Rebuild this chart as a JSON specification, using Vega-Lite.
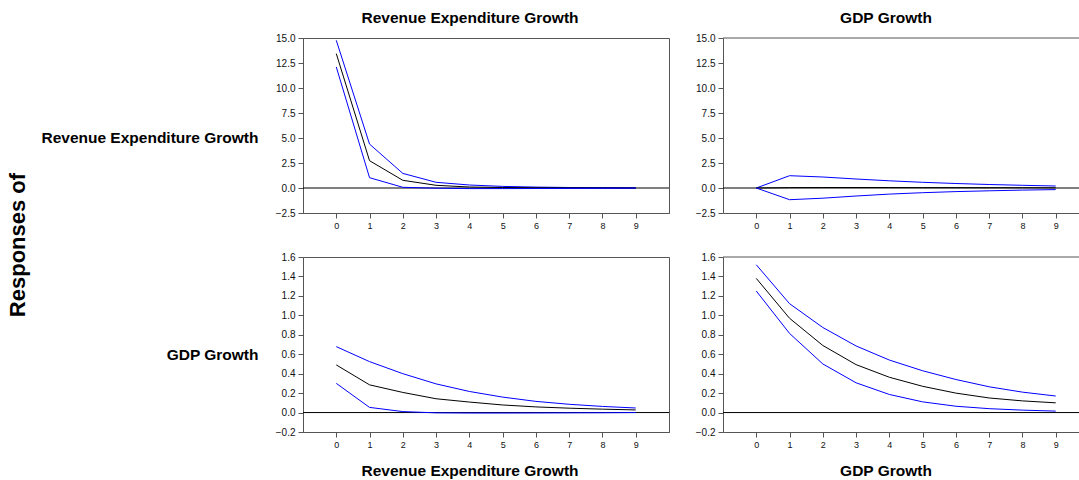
{
  "$schema": "https://vega.github.io/schema/vega-lite/v6.json",
  "padding": {"left": 7, "top": 10, "right": 0, "bottom": 0},
  "background": "white",
  "title": {"text": "Responses of", "orient": "left", "anchor": "middle", "fontSize": 22, "font": "Liberation Sans", "fontWeight": "bold", "color": "#000", "offset": 10},
  "config": {
    "font": "Liberation Sans",
    "view": {"stroke": "#555", "strokeWidth": 1},
    "axis": {"grid": false, "domainColor": "#555", "tickColor": "#555", "tickSize": 5, "labelColor": "#111", "labelFontSize": 10, "labelFont": "Liberation Sans", "labelPadding": 3, "labelOverlap": false, "tickCount": 30},
    "title": {"font": "Liberation Sans", "fontSize": 15.5, "fontWeight": "bold", "color": "#000"}
  },
  "data": {"values": [
    {"r":"Rev","s":"Rev","b":"hi","t":0,"v":14.77},{"r":"Rev","s":"Rev","b":"hi","t":1,"v":4.39},{"r":"Rev","s":"Rev","b":"hi","t":2,"v":1.46},{"r":"Rev","s":"Rev","b":"hi","t":3,"v":0.57},{"r":"Rev","s":"Rev","b":"hi","t":4,"v":0.3},{"r":"Rev","s":"Rev","b":"hi","t":5,"v":0.16},{"r":"Rev","s":"Rev","b":"hi","t":6,"v":0.09},{"r":"Rev","s":"Rev","b":"hi","t":7,"v":0.05},{"r":"Rev","s":"Rev","b":"hi","t":8,"v":0.03},{"r":"Rev","s":"Rev","b":"hi","t":9,"v":0.02},
    {"r":"Rev","s":"Rev","b":"mid","t":0,"v":13.44},{"r":"Rev","s":"Rev","b":"mid","t":1,"v":2.73},{"r":"Rev","s":"Rev","b":"mid","t":2,"v":0.77},{"r":"Rev","s":"Rev","b":"mid","t":3,"v":0.27},{"r":"Rev","s":"Rev","b":"mid","t":4,"v":0.1},{"r":"Rev","s":"Rev","b":"mid","t":5,"v":0.05},{"r":"Rev","s":"Rev","b":"mid","t":6,"v":0.02},{"r":"Rev","s":"Rev","b":"mid","t":7,"v":0.01},{"r":"Rev","s":"Rev","b":"mid","t":8,"v":0.0},{"r":"Rev","s":"Rev","b":"mid","t":9,"v":0.0},
    {"r":"Rev","s":"Rev","b":"lo","t":0,"v":12.11},{"r":"Rev","s":"Rev","b":"lo","t":1,"v":1.03},{"r":"Rev","s":"Rev","b":"lo","t":2,"v":0.07},{"r":"Rev","s":"Rev","b":"lo","t":3,"v":-0.02},{"r":"Rev","s":"Rev","b":"lo","t":4,"v":-0.06},{"r":"Rev","s":"Rev","b":"lo","t":5,"v":-0.06},{"r":"Rev","s":"Rev","b":"lo","t":6,"v":-0.05},{"r":"Rev","s":"Rev","b":"lo","t":7,"v":-0.04},{"r":"Rev","s":"Rev","b":"lo","t":8,"v":-0.03},{"r":"Rev","s":"Rev","b":"lo","t":9,"v":-0.02},
    {"r":"Rev","s":"GDP","b":"hi","t":0,"v":0.0},{"r":"Rev","s":"GDP","b":"hi","t":1,"v":1.23},{"r":"Rev","s":"GDP","b":"hi","t":2,"v":1.1},{"r":"Rev","s":"GDP","b":"hi","t":3,"v":0.9},{"r":"Rev","s":"GDP","b":"hi","t":4,"v":0.72},{"r":"Rev","s":"GDP","b":"hi","t":5,"v":0.57},{"r":"Rev","s":"GDP","b":"hi","t":6,"v":0.45},{"r":"Rev","s":"GDP","b":"hi","t":7,"v":0.35},{"r":"Rev","s":"GDP","b":"hi","t":8,"v":0.27},{"r":"Rev","s":"GDP","b":"hi","t":9,"v":0.2},
    {"r":"Rev","s":"GDP","b":"mid","t":0,"v":0.0},{"r":"Rev","s":"GDP","b":"mid","t":1,"v":0.04},{"r":"Rev","s":"GDP","b":"mid","t":2,"v":0.05},{"r":"Rev","s":"GDP","b":"mid","t":3,"v":0.05},{"r":"Rev","s":"GDP","b":"mid","t":4,"v":0.05},{"r":"Rev","s":"GDP","b":"mid","t":5,"v":0.04},{"r":"Rev","s":"GDP","b":"mid","t":6,"v":0.04},{"r":"Rev","s":"GDP","b":"mid","t":7,"v":0.03},{"r":"Rev","s":"GDP","b":"mid","t":8,"v":0.03},{"r":"Rev","s":"GDP","b":"mid","t":9,"v":0.02},
    {"r":"Rev","s":"GDP","b":"lo","t":0,"v":0.0},{"r":"Rev","s":"GDP","b":"lo","t":1,"v":-1.17},{"r":"Rev","s":"GDP","b":"lo","t":2,"v":-1.02},{"r":"Rev","s":"GDP","b":"lo","t":3,"v":-0.8},{"r":"Rev","s":"GDP","b":"lo","t":4,"v":-0.61},{"r":"Rev","s":"GDP","b":"lo","t":5,"v":-0.47},{"r":"Rev","s":"GDP","b":"lo","t":6,"v":-0.36},{"r":"Rev","s":"GDP","b":"lo","t":7,"v":-0.28},{"r":"Rev","s":"GDP","b":"lo","t":8,"v":-0.21},{"r":"Rev","s":"GDP","b":"lo","t":9,"v":-0.16},
    {"r":"GDP","s":"Rev","b":"hi","t":0,"v":0.678},{"r":"GDP","s":"Rev","b":"hi","t":1,"v":0.524},{"r":"GDP","s":"Rev","b":"hi","t":2,"v":0.4},{"r":"GDP","s":"Rev","b":"hi","t":3,"v":0.295},{"r":"GDP","s":"Rev","b":"hi","t":4,"v":0.217},{"r":"GDP","s":"Rev","b":"hi","t":5,"v":0.159},{"r":"GDP","s":"Rev","b":"hi","t":6,"v":0.115},{"r":"GDP","s":"Rev","b":"hi","t":7,"v":0.085},{"r":"GDP","s":"Rev","b":"hi","t":8,"v":0.063},{"r":"GDP","s":"Rev","b":"hi","t":9,"v":0.047},
    {"r":"GDP","s":"Rev","b":"mid","t":0,"v":0.49},{"r":"GDP","s":"Rev","b":"mid","t":1,"v":0.285},{"r":"GDP","s":"Rev","b":"mid","t":2,"v":0.207},{"r":"GDP","s":"Rev","b":"mid","t":3,"v":0.142},{"r":"GDP","s":"Rev","b":"mid","t":4,"v":0.108},{"r":"GDP","s":"Rev","b":"mid","t":5,"v":0.078},{"r":"GDP","s":"Rev","b":"mid","t":6,"v":0.058},{"r":"GDP","s":"Rev","b":"mid","t":7,"v":0.045},{"r":"GDP","s":"Rev","b":"mid","t":8,"v":0.035},{"r":"GDP","s":"Rev","b":"mid","t":9,"v":0.027},
    {"r":"GDP","s":"Rev","b":"lo","t":0,"v":0.3},{"r":"GDP","s":"Rev","b":"lo","t":1,"v":0.053},{"r":"GDP","s":"Rev","b":"lo","t":2,"v":0.01},{"r":"GDP","s":"Rev","b":"lo","t":3,"v":-0.003},{"r":"GDP","s":"Rev","b":"lo","t":4,"v":-0.005},{"r":"GDP","s":"Rev","b":"lo","t":5,"v":-0.005},{"r":"GDP","s":"Rev","b":"lo","t":6,"v":-0.004},{"r":"GDP","s":"Rev","b":"lo","t":7,"v":-0.003},{"r":"GDP","s":"Rev","b":"lo","t":8,"v":-0.002},{"r":"GDP","s":"Rev","b":"lo","t":9,"v":0.0},
    {"r":"GDP","s":"GDP","b":"hi","t":0,"v":1.52},{"r":"GDP","s":"GDP","b":"hi","t":1,"v":1.12},{"r":"GDP","s":"GDP","b":"hi","t":2,"v":0.875},{"r":"GDP","s":"GDP","b":"hi","t":3,"v":0.685},{"r":"GDP","s":"GDP","b":"hi","t":4,"v":0.54},{"r":"GDP","s":"GDP","b":"hi","t":5,"v":0.43},{"r":"GDP","s":"GDP","b":"hi","t":6,"v":0.34},{"r":"GDP","s":"GDP","b":"hi","t":7,"v":0.265},{"r":"GDP","s":"GDP","b":"hi","t":8,"v":0.21},{"r":"GDP","s":"GDP","b":"hi","t":9,"v":0.17},
    {"r":"GDP","s":"GDP","b":"mid","t":0,"v":1.38},{"r":"GDP","s":"GDP","b":"mid","t":1,"v":0.97},{"r":"GDP","s":"GDP","b":"mid","t":2,"v":0.69},{"r":"GDP","s":"GDP","b":"mid","t":3,"v":0.493},{"r":"GDP","s":"GDP","b":"mid","t":4,"v":0.363},{"r":"GDP","s":"GDP","b":"mid","t":5,"v":0.27},{"r":"GDP","s":"GDP","b":"mid","t":6,"v":0.2},{"r":"GDP","s":"GDP","b":"mid","t":7,"v":0.15},{"r":"GDP","s":"GDP","b":"mid","t":8,"v":0.12},{"r":"GDP","s":"GDP","b":"mid","t":9,"v":0.1},
    {"r":"GDP","s":"GDP","b":"lo","t":0,"v":1.25},{"r":"GDP","s":"GDP","b":"lo","t":1,"v":0.814},{"r":"GDP","s":"GDP","b":"lo","t":2,"v":0.5},{"r":"GDP","s":"GDP","b":"lo","t":3,"v":0.306},{"r":"GDP","s":"GDP","b":"lo","t":4,"v":0.186},{"r":"GDP","s":"GDP","b":"lo","t":5,"v":0.11},{"r":"GDP","s":"GDP","b":"lo","t":6,"v":0.065},{"r":"GDP","s":"GDP","b":"lo","t":7,"v":0.04},{"r":"GDP","s":"GDP","b":"lo","t":8,"v":0.025},{"r":"GDP","s":"GDP","b":"lo","t":9,"v":0.015}
  ]},
  "columns": 2,
  "spacing": {"row": 44, "column": 54},
  "bounds": "flush",
  "resolve": {"scale": {"x": "independent", "y": "independent"}},
  "concat": [
    {
      "width": 366, "height": 175,
      "title": {"text": "Revenue Expenditure Growth", "offset": 7, "dx": -16},
      "layer": [
        {"data": {"values": [{}]}, "mark": {"type": "rule", "color": "#000", "strokeWidth": 1}, "encoding": {"y": {"datum": 0}}},
        {
          "transform": [{"filter": "datum.r == 'Rev' && datum.s == 'Rev'"}],
          "mark": {"type": "line", "strokeWidth": 1},
          "encoding": {
            "x": {"field": "t", "type": "quantitative", "scale": {"domain": [-1, 10], "nice": false, "zero": false}, "axis": {"values": [0,1,2,3,4,5,6,7,8,9], "tickCount": 30, "format": "d", "title": null, "labelFontSize": 9, "labelOverlap": false}},
            "y": {"field": "v", "type": "quantitative", "scale": {"domain": [-2.5, 15], "nice": false}, "axis": {"values": [-2.5,0,2.5,5,7.5,10,12.5,15], "tickCount": 30, "format": ".1f", "labelOverlap": false, "labelBound": false, "title": "Revenue Expenditure Growth", "titleAngle": 0, "titleAlign": "right", "titleBaseline": "middle", "titleX": -45, "titleY": 99, "titleFontSize": 15.5, "titleFontWeight": "bold", "titleColor": "#000"}},
            "color": {"field": "b", "type": "nominal", "scale": {"domain": ["lo", "mid", "hi"], "range": ["#0000ff", "#000000", "#0000ff"]}, "legend": null}
          }
        }
      ]
    },
    {
      "width": 356, "height": 175,
      "view": {"stroke": null},
      "title": {"text": "GDP Growth", "offset": 7, "dx": -15},
      "layer": [
        {"data": {"values": [{}]}, "mark": {"type": "rule", "color": "#000", "strokeWidth": 1}, "encoding": {"y": {"datum": 0}}},
        {"data": {"values": [{}]}, "mark": {"type": "rule", "color": "#555", "strokeWidth": 1}, "encoding": {"y": {"datum": 15}}},
        {
          "transform": [{"filter": "datum.r == 'Rev' && datum.s == 'GDP'"}],
          "mark": {"type": "line", "strokeWidth": 1},
          "encoding": {
            "x": {"field": "t", "type": "quantitative", "scale": {"domain": [-1, 9.7], "nice": false, "zero": false}, "axis": {"values": [0,1,2,3,4,5,6,7,8,9], "tickCount": 30, "format": "d", "title": null, "labelFontSize": 9, "labelOverlap": false}},
            "y": {"field": "v", "type": "quantitative", "scale": {"domain": [-2.5, 15], "nice": false}, "axis": {"values": [-2.5,0,2.5,5,7.5,10,12.5,15], "tickCount": 30, "format": ".1f", "labelOverlap": false, "labelBound": false, "title": null}},
            "color": {"field": "b", "type": "nominal", "scale": {"domain": ["lo", "mid", "hi"], "range": ["#0000ff", "#000000", "#0000ff"]}, "legend": null}
          }
        }
      ]
    },
    {
      "width": 366, "height": 175,
      "title": {"text": "Revenue Expenditure Growth", "orient": "bottom", "offset": 15, "dx": -16},
      "layer": [
        {"data": {"values": [{}]}, "mark": {"type": "rule", "color": "#000", "strokeWidth": 1}, "encoding": {"y": {"datum": 0}}},
        {
          "transform": [{"filter": "datum.r == 'GDP' && datum.s == 'Rev'"}],
          "mark": {"type": "line", "strokeWidth": 1},
          "encoding": {
            "x": {"field": "t", "type": "quantitative", "scale": {"domain": [-1, 10], "nice": false, "zero": false}, "axis": {"values": [0,1,2,3,4,5,6,7,8,9], "tickCount": 30, "format": "d", "title": null, "labelFontSize": 9, "labelOverlap": false}},
            "y": {"field": "v", "type": "quantitative", "scale": {"domain": [-0.2, 1.6], "nice": false}, "axis": {"values": [-0.2,0,0.2,0.4,0.6,0.8,1.0,1.2,1.4,1.6], "tickCount": 30, "format": ".1f", "labelOverlap": false, "labelBound": false, "title": "GDP Growth", "titleAngle": 0, "titleAlign": "right", "titleBaseline": "middle", "titleX": -45, "titleY": 97, "titleFontSize": 15.5, "titleFontWeight": "bold", "titleColor": "#000"}},
            "color": {"field": "b", "type": "nominal", "scale": {"domain": ["lo", "mid", "hi"], "range": ["#0000ff", "#000000", "#0000ff"]}, "legend": null}
          }
        }
      ]
    },
    {
      "width": 356, "height": 175,
      "view": {"stroke": null},
      "title": {"text": "GDP Growth", "orient": "bottom", "offset": 15, "dx": -15},
      "layer": [
        {"data": {"values": [{}]}, "mark": {"type": "rule", "color": "#000", "strokeWidth": 1}, "encoding": {"y": {"datum": 0}}},
        {"data": {"values": [{}]}, "mark": {"type": "rule", "color": "#555", "strokeWidth": 1}, "encoding": {"y": {"datum": 1.6}}},
        {
          "transform": [{"filter": "datum.r == 'GDP' && datum.s == 'GDP'"}],
          "mark": {"type": "line", "strokeWidth": 1},
          "encoding": {
            "x": {"field": "t", "type": "quantitative", "scale": {"domain": [-1, 9.7], "nice": false, "zero": false}, "axis": {"values": [0,1,2,3,4,5,6,7,8,9], "tickCount": 30, "format": "d", "title": null, "labelFontSize": 9, "labelOverlap": false}},
            "y": {"field": "v", "type": "quantitative", "scale": {"domain": [-0.2, 1.6], "nice": false}, "axis": {"values": [-0.2,0,0.2,0.4,0.6,0.8,1.0,1.2,1.4,1.6], "tickCount": 30, "format": ".1f", "labelOverlap": false, "labelBound": false, "title": null}},
            "color": {"field": "b", "type": "nominal", "scale": {"domain": ["lo", "mid", "hi"], "range": ["#0000ff", "#000000", "#0000ff"]}, "legend": null}
          }
        }
      ]
    }
  ]
}
